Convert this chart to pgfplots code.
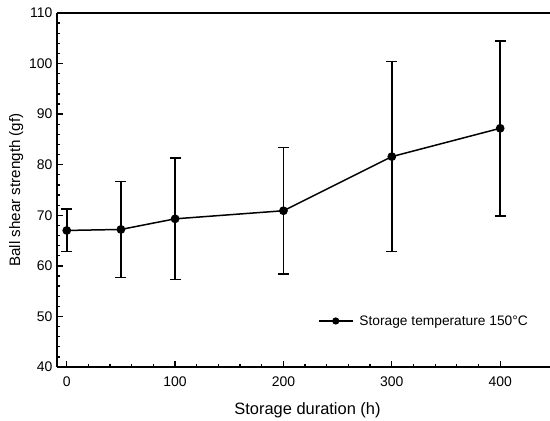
\documentclass[border=0pt]{standalone}
\usepackage{pgfplots}
\pgfplotsset{compat=1.18}
\usepackage{fontspec}
\setmainfont{Liberation Sans}
\begin{document}
\begin{tikzpicture}
\begin{axis}[
  at={(0,0)}, anchor=south west,
  scale only axis,
  width=493bp, height=354bp,
  xmin=-9, xmax=446, ymin=40, ymax=110,
  axis x line=box, axis y line=left,
  axis line style={line width=1.5bp, -},
  xtick={0,100,200,300,400}, ytick={40,50,...,110},
  minor x tick num=4, minor y tick num=4,
  tick align=inside, xtick pos=bottom, ytick pos=left,
  major tick length=6bp, minor tick length=3.5bp,
  every tick/.style={black, line width=1.3bp},
  tick label style={font=\fontsize{14}{16}\selectfont},
  xticklabel style={yshift=-6bp},
  yticklabel style={xshift=-1bp},
  /pgf/number format/assume math mode=true,
  xlabel={Storage duration (h)}, ylabel={Ball shear strength (gf)},
  xlabel style={font=\fontsize{16.5}{18}\selectfont, yshift=-9bp, xshift=4bp},
  ylabel style={font=\fontsize{15.2}{17}\selectfont, yshift=-1bp},
  legend style={draw=none, fill=none, inner sep=0pt, at={(0.529,0.13)}, anchor=west, font=\fontsize{13.8}{15}\selectfont},
  legend cell align=left,
  legend image code/.code={\draw[black, line width=1.5bp] (0bp,0bp) -- (34bp,0bp); \fill[black] (17bp,0bp) circle (2.8bp);},
  clip=false,
]
\addplot[black, line width=1.5bp, mark=*, mark size=3.6bp,
  error bars/.cd, y dir=both, y explicit,
  error bar style={line width=1.5bp, solid, black},
  error mark options={rotate=90, mark size=5.5bp, line width=1.5bp, black}]
  coordinates {
  (0,67.0) +- (4.1,4.2)
  (50,67.2) +- (9.5,9.5)
  (100,69.3) +- (11.7,12.0)
  (200,70.9) +- (12.6,12.5)
  (300,81.6) +- (18.5,18.8)
  (400,87.2) +- (16.8,17.3)
  };
\addlegendentry{\hspace{4bp}Storage temperature 150°C}
\end{axis}
\pgfresetboundingbox
\path[use as bounding box] (-57bp,-54bp) rectangle (493bp,367bp);
\end{tikzpicture}
\end{document}
